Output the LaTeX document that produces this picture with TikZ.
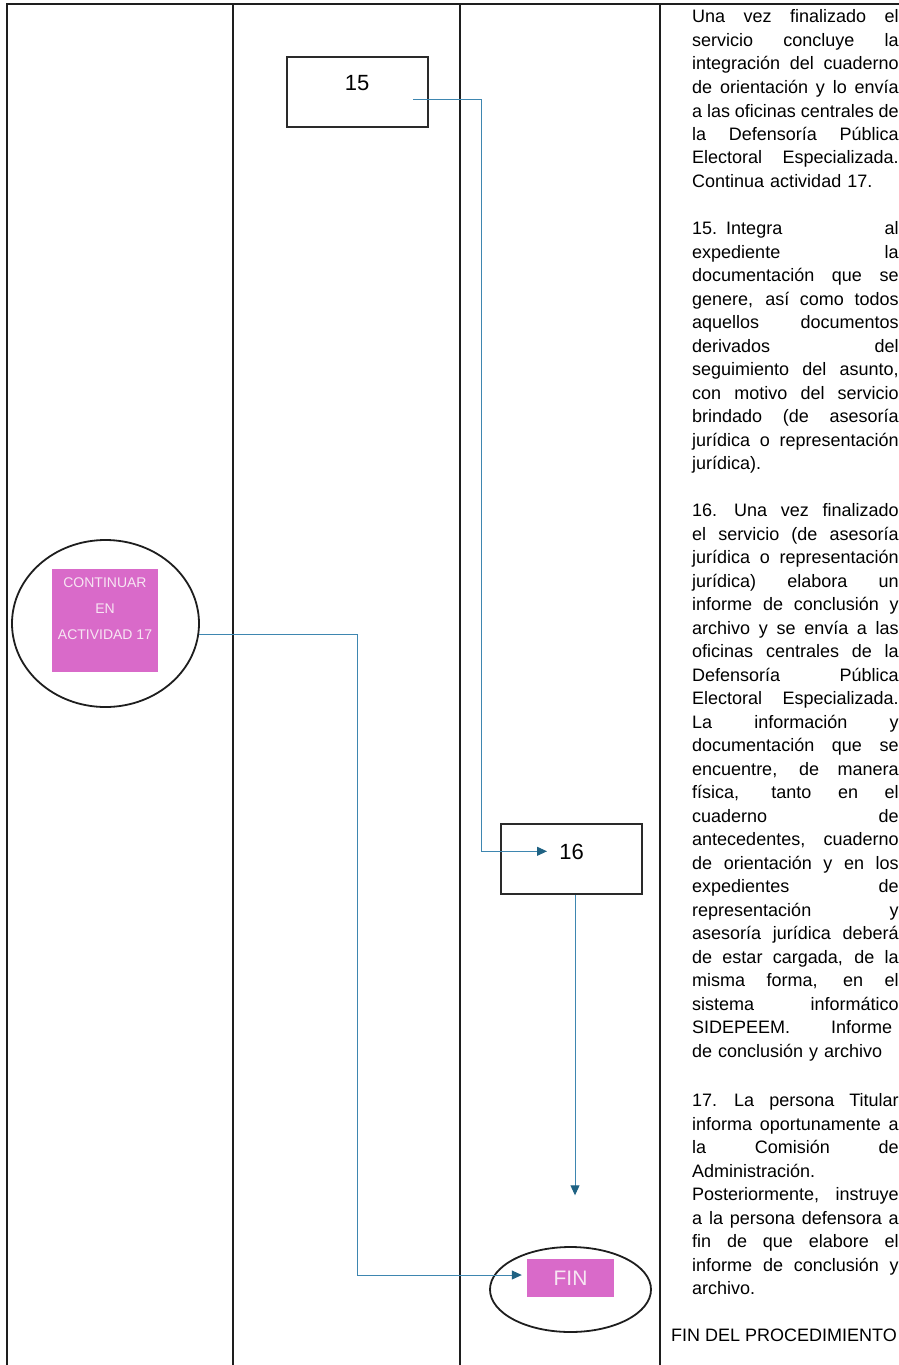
\documentclass[tikz,border=0pt]{standalone}
\usepackage{fontspec}
\setmainfont{Liberation Sans}
\usetikzlibrary{arrows.meta,calc,shapes.geometric}
\definecolor{tblc}{HTML}{1E1E1E}
\definecolor{boxc}{HTML}{2A2A2A}
\definecolor{connc}{HTML}{3E86B0}
\definecolor{tipc}{HTML}{1F6283}
\definecolor{mag}{HTML}{D96AC9}
\definecolor{magtxt}{HTML}{F7E6F3}
\newlength{\colw}
\setlength{\colw}{206.5pt}
\newcommand{\myJw}[2]{\hbox to #1{\spaceskip=0.278em plus 1fil minus 0.08em\relax #2}\par}
\newcommand{\myJ}[1]{\myJw{\colw}{#1}}
\newcommand{\myL}[1]{#1\par}
\tikzset{
 tbl/.style={draw=tblc, line width=2pt},
 stepbox/.style={draw=boxc, line width=2pt, minimum width=141pt, minimum height=70pt, inner sep=0},
 num/.style={font=\fontsize{22}{26}\selectfont, inner sep=0},
 oval/.style={ellipse, draw=tblc, line width=1.8pt, inner sep=0},
 magbox/.style={fill=mag, inner sep=0},
 magtext/.style={text=magtxt, align=center, inner sep=0},
 conn/.style={draw=connc, line width=1pt},
 tip/.style={-{Triangle[length=10pt,width=9pt,color=tipc,fill=tipc]}},
 para/.style={anchor=base west, inner sep=0, text width=206.5pt, font=\fontsize{18}{23.5}\selectfont}
}
\begin{document}
\begin{tikzpicture}[x=1pt,y=-1pt]
\useasboundingbox (0,0) rectangle (899,1365);
% table
\draw[tbl] (7,1365) -- (7,4) -- (899,4);
\draw[tbl] (233,4) -- (233,1365);
\draw[tbl] (460,4) -- (460,1365);
\draw[tbl] (660,4) -- (660,1365);
% shapes
\node[stepbox] (b15) at (357.5,91.5) {};
\node[num] (t15) at (357,83) {15};
\node[stepbox, minimum width=141.6pt] (b16) at (571.5,859.3) {};
\node[num] (t16) at (571.5,852) {16};
\node[oval, minimum width=187pt, minimum height=167pt] (c1) at (105.5,623.5) {};
\node[magbox, minimum width=106.6pt, minimum height=102.7pt] (sq1) at (105,620.7) {};
\node[magtext, font=\fontsize{14}{26}\selectfont] (t1) at (105,608.5) {CONTINUAR\\EN\\ACTIVIDAD 17};
\node[oval, minimum width=161pt, minimum height=85pt] (fe) at (570.5,1289.5) {};
\node[magbox, minimum width=87pt, minimum height=38pt] (fr) at (570.5,1278) {};
\node[magtext, font=\fontsize{21}{24}\selectfont] (tfin) at (fr.center) {FIN};
% connectors
\coordinate (s15) at ($(b15.east)+(-16,7.5)$);
\coordinate (e16) at ($(b16.west)+(47.3,-8)$);
\draw[conn,tip] (s15) -- ++(68,0) |- (e16);
\coordinate (s16) at ($(b16.south)+(3.5,0)$);
\coordinate (e16d) at ($(s16)+(0,300)$);
\draw[conn,tip] (s16) -- (e16d);
\coordinate (efin) at ($(fr.west)+(-5,-3)$);
\draw[conn,tip] (c1.-7) -| ($(efin)+(-164.3,0)$) -- (efin);
% text column
\node[para] (p1) at (692,23) {%
\myJ{Una vez finalizado el}
\myJ{servicio concluye la}
\myJ{integración del cuaderno}
\myJ{de orientación y lo envía}
\myJ{a las oficinas centrales de}
\myJ{la Defensoría Pública}
\myJ{Electoral Especializada.}
\myL{Continua actividad 17.}};
\node[para] (p15) at (692,234.5) {%
\myJ{15. Integra al}
\myJ{expediente la}
\myJ{documentación que se}
\myJ{genere, así como todos}
\myJ{aquellos documentos}
\myJ{derivados del}
\myJ{seguimiento del asunto,}
\myJ{con motivo del servicio}
\myJ{brindado (de asesoría}
\myJ{jurídica o representación}
\myL{jurídica).}};
\node[para] (p16) at (692,516.5) {%
\myJ{16.\hspace{8pt} Una vez finalizado}
\myJ{el servicio (de asesoría}
\myJ{jurídica o representación}
\myJ{jurídica) elabora un}
\myJ{informe de conclusión y}
\myJ{archivo y se envía a las}
\myJ{oficinas centrales de la}
\myJ{Defensoría Pública}
\myJ{Electoral Especializada.}
\myJ{La información y}
\myJ{documentación que se}
\myJ{encuentre, de manera}
\myJ{física, tanto en el}
\myJ{cuaderno de}
\myJ{antecedentes, cuaderno}
\myJ{de orientación y en los}
\myJ{expedientes de}
\myJ{representación y}
\myJ{asesoría jurídica deberá}
\myJ{de estar cargada, de la}
\myJ{misma forma, en el}
\myJ{sistema informático}
\myJw{200pt}{SIDEPEEM. Informe}
\myL{de conclusión y archivo}};
\node[para] (p17) at (692,1106.5) {%
\myJ{17.\hspace{8pt} La persona Titular}
\myJ{informa oportunamente a}
\myJ{la Comisión de}
\myL{Administración.}
\myJ{Posteriormente, instruye}
\myJ{a la persona defensora a}
\myJ{fin de que elabore el}
\myJ{informe de conclusión y}
\myL{archivo.}};
\node[anchor=base west, inner sep=0, font=\fontsize{18}{23.5}\selectfont] (pfin) at (671,1341.5) {FIN DEL PROCEDIMIENTO};
\end{tikzpicture}
\end{document}
